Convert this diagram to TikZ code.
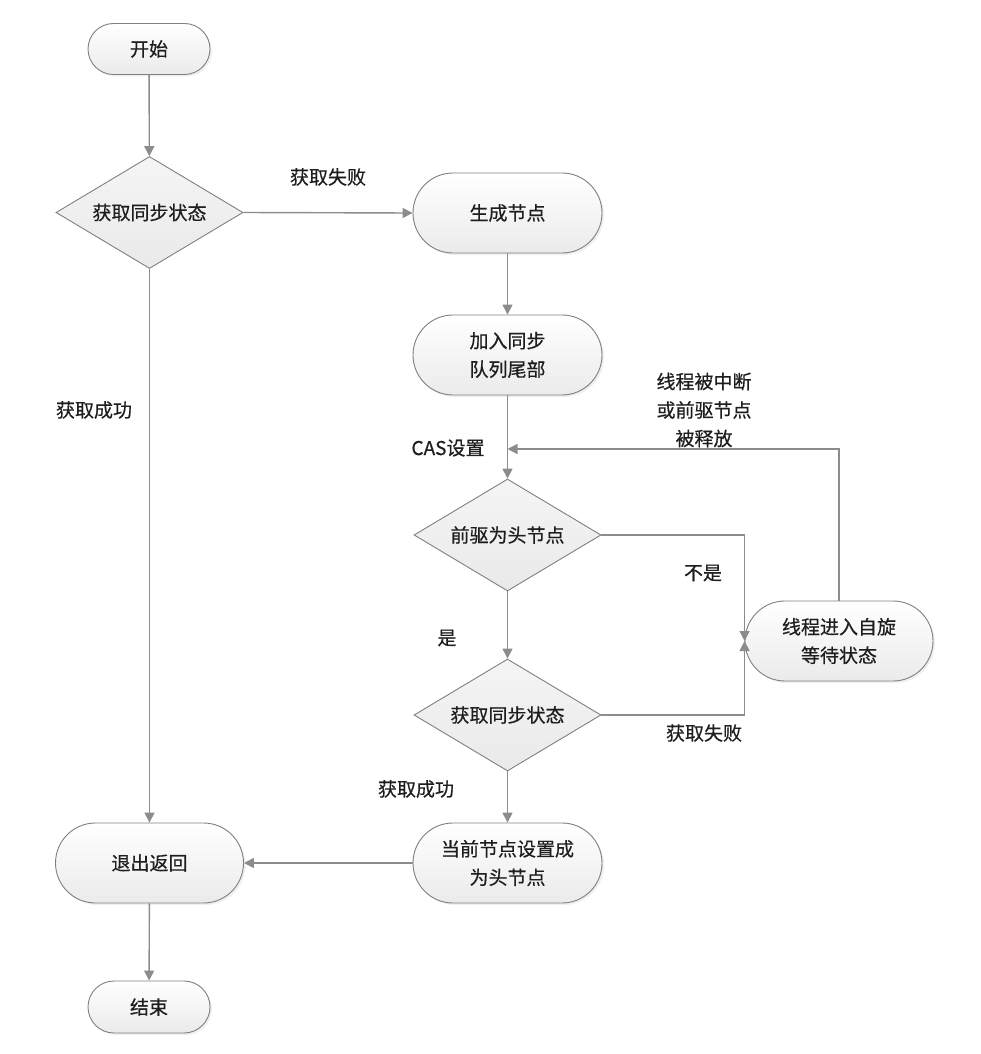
\documentclass[tikz,border=0pt]{standalone}
\usepackage{fontspec}
\setmainfont{Noto Sans CJK SC}[RawFeature={embolden=0.5}]
\usetikzlibrary{shapes.geometric, arrows.meta, shadows}
\definecolor{linec}{HTML}{8C8C8C}
\definecolor{borderc}{HTML}{808080}
\definecolor{txtc}{HTML}{1E1E1E}
\begin{document}
\begin{tikzpicture}[x=1pt,y=-1pt,
  txtfont/.style={font=\fontsize{19}{28.5}\selectfont, text=txtc},
  stad/.style n args={3}{draw=borderc, line width=0.9pt, top color=white, bottom color=gray!16,
    rounded corners=#3, minimum width=#1, minimum height=#2, inner sep=0pt, align=center, txtfont,
    drop shadow={opacity=0.12, shadow xshift=2pt, shadow yshift=-2pt}},
  dia/.style={diamond, aspect=1.67, draw=borderc, line width=0.9pt, top color=gray!8, bottom color=gray!17,
    minimum width=187pt, minimum height=112pt, inner sep=0pt, align=center, txtfont},
  lbl/.style={align=center, inner sep=0pt, txtfont},
  arr/.style={draw=linec, line width=1.4pt, -{Triangle[length=10pt,width=10pt]}, color=linec}
]
\useasboundingbox (0,0) rectangle (980,1054);
\fill[white] (0,0) rectangle (980,1054);

% nodes
\node[stad={122pt}{51pt}{25.5pt}] (start) at (149,49) {开始};
\node[dia] (d1) at (149.5,212.5) {获取同步状态};
\node[stad={189pt}{80pt}{40pt}] (gen) at (507.5,213) {生成节点};
\node[stad={189pt}{80pt}{40pt}] (join) at (507.5,355) {加入同步\\队列尾部};
\node[dia] (pre) at (507.5,535) {前驱为头节点};
\node[dia] (d2) at (507.5,715) {获取同步状态};
\node[stad={189pt}{80pt}{40pt}] (cur) at (507.5,863) {当前节点设置成\\为头节点};
\node[stad={188pt}{80pt}{40pt}] (exit) at (149.5,863) {退出返回};
\node[stad={122pt}{52pt}{26pt}] (end) at (149,1007) {结束};
\node[stad={188pt}{80pt}{40pt}] (spin) at (839,641) {线程进入自旋\\等待状态};
\coordinate (merge) at (507.5,449);

% connectors
\draw[arr] (start) -- (d1);
\draw[arr] (d1.east) -- (gen.west);
\draw[arr] (d1) -- (exit);
\draw[arr] (gen) -- (join);
\draw[arr] (join) -- (pre);
\draw[arr] (pre) -- (d2);
\draw[arr] (pre.east) -| (spin.west);
\draw[arr] (d2.east) -| (spin.west);
\draw[arr] (d2) -- (cur);
\draw[arr] (cur) -- (exit);
\draw[arr] (exit) -- (end);
\draw[arr] (spin.north) |- (merge);

% labels
\node[lbl] (l1) at (328,177) {获取失败};
\node[lbl] (l2) at (94,410) {获取成功};
\node[lbl] (l3) at (448,448) {CAS设置};
\node[lbl] (l4) at (704,410) {线程被中断\\或前驱节点\\被释放};
\node[lbl] (l5) at (703,573) {不是};
\node[lbl] (l6) at (447,638) {是};
\node[lbl] (l7) at (704,733) {获取失败};
\node[lbl] (l8) at (416,789) {获取成功};
\end{tikzpicture}
\end{document}
